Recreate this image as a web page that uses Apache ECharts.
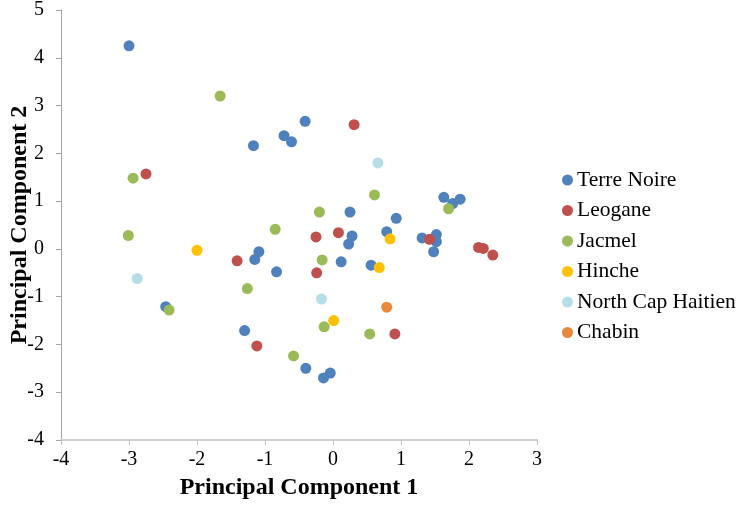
<!DOCTYPE html>
<html><head><meta charset="utf-8">
<script src="https://cdn.jsdelivr.net/npm/echarts@6/dist/echarts.min.js"></script>
<style>html,body{margin:0;padding:0;background:#fff}#c{width:742px;height:507px}</style>
</head><body><div id="c"></div>
<script>
const seriesNames = ["Terre Noire","Leogane","Jacmel","Hinche","North Cap Haitien","Chabin"];
const terreNoire = [[-3.0,4.25],[-1.17,2.16],[-0.41,2.67],[-0.72,2.37],[-0.61,2.24],[0.25,0.77],[0.93,0.64],[1.63,1.08],[1.87,1.04],[1.76,0.95],[0.28,0.27],[0.23,0.1],[0.79,0.36],[1.31,0.23],[1.52,0.3],[1.52,0.15],[1.48,-0.06],[-1.09,-0.06],[-1.15,-0.22],[-0.83,-0.48],[0.12,-0.27],[0.56,-0.34],[-0.4,-2.5],[-0.04,-2.6],[-0.14,-2.7],[-2.46,-1.21],[-1.3,-1.71]];
const leogane = [[-2.75,1.57],[0.31,2.6],[-0.25,0.25],[0.08,0.34],[1.42,0.2],[2.14,0.03],[2.21,0.01],[2.35,-0.13],[-0.24,-0.5],[0.91,-1.78],[-1.41,-0.25],[-1.12,-2.03]];
const jacmel = [[-1.66,3.2],[-2.94,1.48],[-3.01,0.28],[-0.85,0.41],[0.61,1.13],[-0.2,0.77],[1.7,0.84],[-0.16,-0.23],[-0.13,-1.63],[0.54,-1.78],[-0.58,-2.24],[-1.26,-0.83],[-2.41,-1.28]];
const hinche = [[0.84,0.21],[0.68,-0.39],[0.01,-1.5],[-2.0,-0.03]];
const northCapHaitien = [[0.66,1.8],[-0.17,-1.05],[-2.88,-0.62]];
const chabin = [[0.79,-1.22]];
const xTicks = [-4,-3,-2,-1,0,1,2,3];
const yTicks = [-4,-3,-2,-1,0,1,2,3,4,5];

const colors = ["#4F81BD","#C0504D","#9BBB59","#FFC000","#B7DEE8","#E9883A"];
const dataList = [terreNoire, leogane, jacmel, hinche, northCapHaitien, chabin];
const font = "'Liberation Serif','Times New Roman',serif";
const chart = echarts.init(document.getElementById('c'));
chart.setOption({
  animation:false,
  color: colors,
  grid:{left:61,right:205,top:10,bottom:67,containLabel:false,outerBoundsMode:'none'},
  legend:{
    orient:'vertical', left:557, top:164, icon:'circle', itemWidth:11, itemHeight:11, itemGap:8.5,
    textStyle:{fontFamily:font,fontSize:21.5,color:'#000',lineHeight:22,padding:[0,0,0,-1]},
    data: seriesNames
  },
  xAxis:{
    type:'value', min:xTicks[0], max:xTicks[xTicks.length-1], interval:1,
    name:'Principal Component 1', nameLocation:'middle', nameGap:36, nameMoveOverlap:false,
    nameTextStyle:{fontFamily:font,fontSize:24,fontWeight:'bold',color:'#000'},
    axisLine:{show:true,onZero:false,lineStyle:{color:'#D0D0D0',width:2}},
    axisTick:{show:true,length:5,lineStyle:{color:'#BFBFBF'}},
    axisLabel:{fontFamily:font,fontSize:20,color:'#000',margin:10},
    splitLine:{show:false}
  },
  yAxis:{
    type:'value', min:yTicks[0], max:yTicks[yTicks.length-1], interval:1,
    name:'Principal Component 2', nameLocation:'middle', nameGap:29, nameMoveOverlap:false,
    nameTextStyle:{fontFamily:font,fontSize:24,fontWeight:'bold',color:'#000'},
    axisLine:{show:true,onZero:false,lineStyle:{color:'#A6A6A6',width:1}},
    axisTick:{show:true,length:5,lineStyle:{color:'#A6A6A6'}},
    axisLabel:{fontFamily:font,fontSize:20,color:'#000',margin:17},
    splitLine:{show:false}
  },
  series: seriesNames.map((n,i)=>({
    name:n, type:'scatter', data:dataList[i], symbol:'circle', symbolSize:11,
    itemStyle:{color:colors[i],opacity:1}
  }))
});
</script></body></html>
